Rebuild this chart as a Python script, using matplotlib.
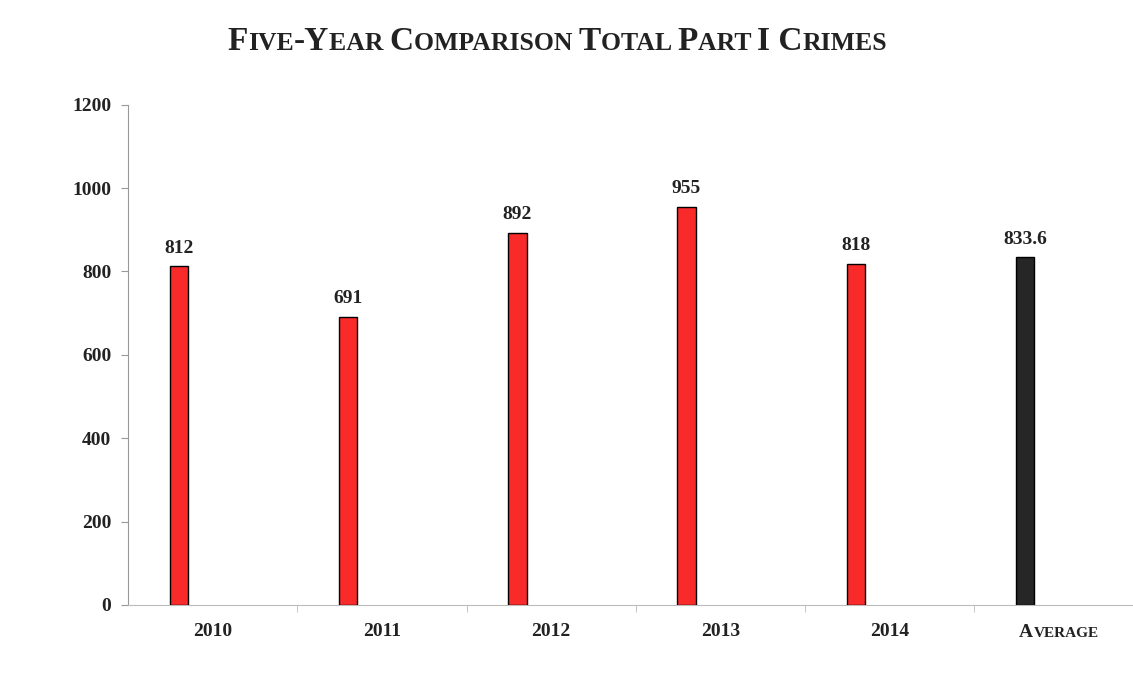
import matplotlib
matplotlib.use("Agg")
import matplotlib.pyplot as plt
from matplotlib.offsetbox import TextArea, HPacker, AnnotationBbox

# --- Data
categories = ["2010", "2011", "2012", "2013", "2014", "Average"]
values = [812, 691, 892, 955, 818, 833.6]
value_labels = ["812", "691", "892", "955", "818", "833.6"]
bar_colors = ["#f82a2a", "#f82a2a", "#f82a2a", "#f82a2a", "#f82a2a", "#262626"]
yticks = [0, 200, 400, 600, 800, 1000, 1200]

SERIF = "Liberation Serif"
TXT = "#222222"


def small_caps(text, big, small, color=TXT):
    # small-caps run: capitals at full size, lower case drawn as smaller capitals
    runs = []
    for ch in text:
        size = small if ch.islower() else big
        if runs and (runs[-1][1] == size or ch == " "):
            runs[-1][0] += ch.upper()
        else:
            runs.append([ch.upper(), size])
    boxes = [TextArea(t, textprops=dict(fontsize=s, fontweight="bold", family=SERIF, color=color))
             for t, s in runs]
    return HPacker(children=boxes, align="baseline", pad=0, sep=0)


fig = plt.figure(figsize=(11.33, 6.89), dpi=100)
ax = fig.add_axes([0.113, 0.122, 0.887, 0.726])

x = list(range(len(categories)))
ax.bar(x, values, width=0.11, color=bar_colors, edgecolor="black", linewidth=1.0, zorder=3)

for xi, v, lab in zip(x, values, value_labels):
    ax.annotate(lab, (xi, v), xytext=(0, 7), textcoords="offset points",
                ha="center", va="bottom", fontsize=14, fontweight="bold",
                family=SERIF, color=TXT)

ax.set_xlim(-0.301, 5.638)
ax.set_ylim(0, 1200)
ax.set_yticks(yticks)
ax.set_yticklabels([str(t) for t in yticks], fontsize=14, fontweight="bold",
                   family=SERIF, color=TXT)
ax.tick_params(axis="y", length=5, color="#999999", pad=7)

# category labels sit in the middle of each category slot, bars are left of it
label_pos = [xi + 0.2 for xi in x]
ax.set_xticks(label_pos)
ax.set_xticklabels(categories[:-1] + [""], fontsize=14, fontweight="bold",
                   family=SERIF, color=TXT)
ax.tick_params(axis="x", which="major", length=0, pad=13)
ax.set_xticks([k - 0.3 for k in range(1, 6)], minor=True)
ax.tick_params(axis="x", which="minor", length=5, color="#bbbbbb")

avg_label = small_caps(categories[-1], 14, 11)
ab = AnnotationBbox(avg_label, (label_pos[-1], 0), xycoords=("data", "axes fraction"),
                    xybox=(0, -20), boxcoords="offset points",
                    box_alignment=(0.5, 0.5), frameon=False, annotation_clip=False)
ax.add_artist(ab)

for side in ["top", "right"]:
    ax.spines[side].set_visible(False)
ax.spines["left"].set_color("#999999")
ax.spines["bottom"].set_color("#bbbbbb")

title = small_caps("Five-Year Comparison Total Part I Crimes", 24, 18.5)
tb = AnnotationBbox(title, (0.492, 0.94), xycoords="figure fraction",
                    box_alignment=(0.5, 0.5), frameon=False)
fig.add_artist(tb)

fig.savefig("out.png", dpi=100)
